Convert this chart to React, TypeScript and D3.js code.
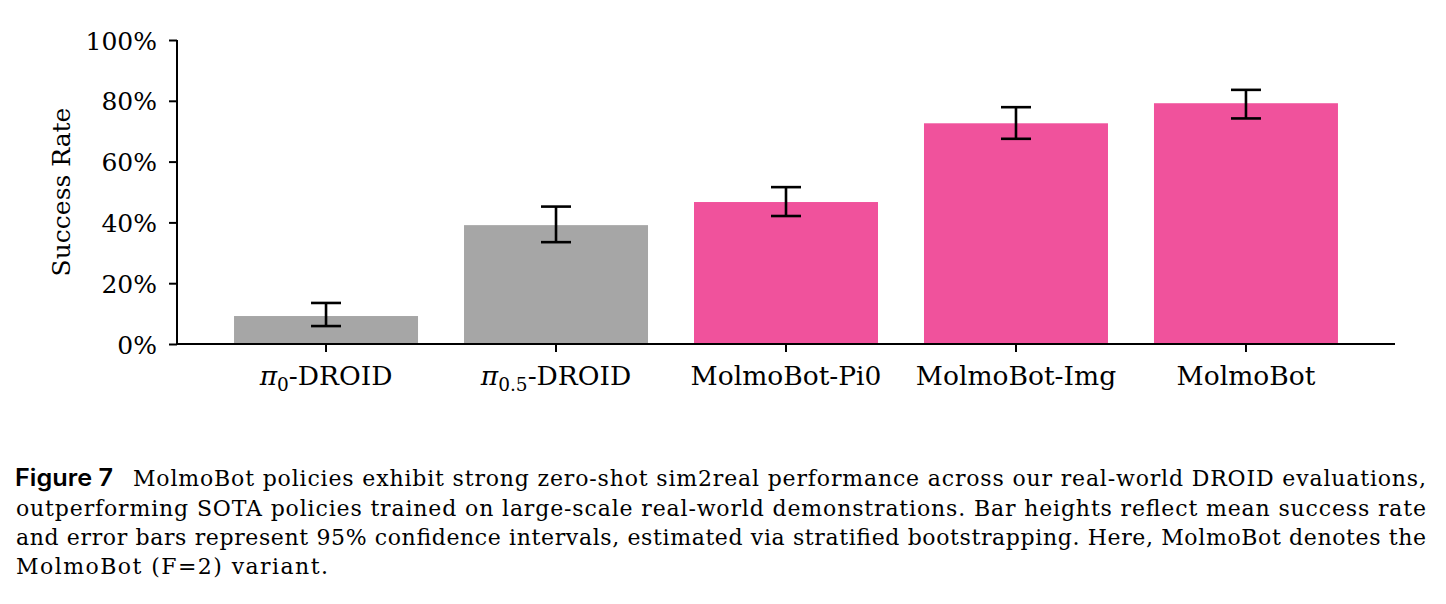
import React, { useEffect, useRef } from 'react';
import * as d3 from 'd3';

// data
const policies = ['pi0', 'pi05', 'MolmoBot-Pi0', 'MolmoBot-Img', 'MolmoBot'];
const successRate = [9.2, 39.1, 46.7, 72.6, 79.2];
const ciLow = [5.9, 33.5, 42.1, 67.5, 74.2];
const ciHigh = [13.5, 45.2, 51.6, 77.9, 83.6];
const isOurs = [false, false, true, true, true];
const yTicks = [0, 20, 40, 60, 80, 100];

const captionLines = [
  'MolmoBot policies exhibit strong zero-shot sim2real performance across our real-world DROID evaluations,',
  'outperforming SOTA policies trained on large-scale real-world demonstrations. Bar heights reflect mean success rate',
  'and error bars represent 95% confidence intervals, estimated via stratified bootstrapping. Here, MolmoBot denotes the',
  'MolmoBot (F=2) variant.',
];

const SERIF = "'DejaVu Serif', serif";

const App = () => {
  const ref = useRef<SVGSVGElement | null>(null);

  useEffect(() => {
    if (!ref.current) return;
    const width = 1446;
    const height = 604;
    const left = 177;
    const right = 1395;
    const top = 40;
    const bottom = 344;

    const svg = d3.select(ref.current);
    svg.selectAll('*').remove();
    svg.attr('width', width).attr('height', height);

    const x = d3.scaleBand<string>()
      .domain(policies)
      .range([left, right])
      .paddingInner(0.2)
      .paddingOuter(0.248);

    const y = d3.scaleLinear().domain([0, 100]).range([bottom, top]);

    // bars
    svg.append('g')
      .selectAll('rect')
      .data(policies)
      .join('rect')
      .attr('x', d => x(d)!)
      .attr('width', x.bandwidth())
      .attr('y', (d, i) => y(successRate[i]))
      .attr('height', (d, i) => y(0) - y(successRate[i]))
      .attr('fill', (d, i) => (isOurs[i] ? '#F0529C' : '#A6A6A6'));

    // error bars
    const eb = svg.append('g').attr('stroke', '#000').attr('stroke-width', 2.6).attr('fill', 'none');
    policies.forEach((p, i) => {
      const cx = x(p)! + x.bandwidth() / 2;
      eb.append('line').attr('x1', cx).attr('x2', cx).attr('y1', y(ciLow[i])).attr('y2', y(ciHigh[i]));
      eb.append('line').attr('x1', cx - 15).attr('x2', cx + 15).attr('y1', y(ciLow[i])).attr('y2', y(ciLow[i]));
      eb.append('line').attr('x1', cx - 15).attr('x2', cx + 15).attr('y1', y(ciHigh[i])).attr('y2', y(ciHigh[i]));
    });

    // y axis
    const yAxis = svg.append('g')
      .attr('transform', `translate(${left},0)`)
      .call(d3.axisLeft(y).tickValues(yTicks).tickSize(8).tickPadding(12).tickFormat(d => `${d}%`));
    yAxis.select('.domain').attr('stroke-width', 2).attr('d', `M0,${top}V${bottom}`);
    yAxis.selectAll('.tick line').attr('stroke-width', 2);
    yAxis.selectAll('.tick text')
      .attr('font-family', SERIF)
      .attr('font-size', 25)
      .attr('fill', '#000')
      .attr('dy', '0.36em');

    // x axis
    const xAxis = svg.append('g')
      .attr('transform', `translate(0,${bottom})`)
      .call(d3.axisBottom(x).tickSize(8).tickFormat(() => ''));
    xAxis.select('.domain').attr('stroke-width', 2).attr('d', `M${left},0H${right}`);
    xAxis.selectAll('.tick line').attr('stroke-width', 2);

    const labels = svg.append('g')
      .attr('font-family', SERIF)
      .attr('font-size', 26.5)
      .attr('text-anchor', 'middle')
      .attr('fill', '#000');
    policies.forEach(p => {
      const t = labels.append('text')
        .attr('x', x(p)! + x.bandwidth() / 2)
        .attr('y', 385);
      if (p === 'pi0' || p === 'pi05') {
        t.append('tspan').attr('font-style', 'italic').text('π');
        t.append('tspan')
          .attr('font-size', 18.5)
          .attr('dy', 6)
          .text(p === 'pi0' ? '0' : '0.5');
        t.append('tspan').attr('dy', -6).text('-DROID');
      } else {
        t.text(p);
      }
    });

    // y label
    svg.append('text')
      .attr('transform', `translate(70,${(top + bottom) / 2}) rotate(-90)`)
      .attr('text-anchor', 'middle')
      .attr('font-family', SERIF)
      .attr('font-size', 25)
      .attr('fill', '#000')
      .text('Success Rate');

    // caption
    const cap = svg.append('g').attr('fill', '#000');
    cap.append('text')
      .attr('x', 15)
      .attr('y', 486)
      .attr('font-family', 'Inter, "Noto Sans", sans-serif')
      .attr('font-weight', 600)
      .attr('font-size', 24)
      .attr('textLength', 98)
      .attr('lengthAdjust', 'spacingAndGlyphs')
      .text('Figure 7');
    const lineStarts = [133, 16, 16, 16];
    const lineEnds = [1426, 1426, 1426, 328];
    const baselines = [486, 515.5, 544.5, 573.5];
    captionLines.forEach((line, i) => {
      cap.append('text')
        .attr('x', lineStarts[i])
        .attr('y', baselines[i])
        .attr('font-family', SERIF)
        .attr('font-size', 22)
        .attr('textLength', lineEnds[i] - lineStarts[i])
        .attr('lengthAdjust', 'spacing')
        .text(line);
    });
  }, []);

  return (
    <svg
      ref={ref}
      style={{ position: 'absolute', left: 0, top: 0, background: '#fff' }}
    />
  );
};

export default App;
